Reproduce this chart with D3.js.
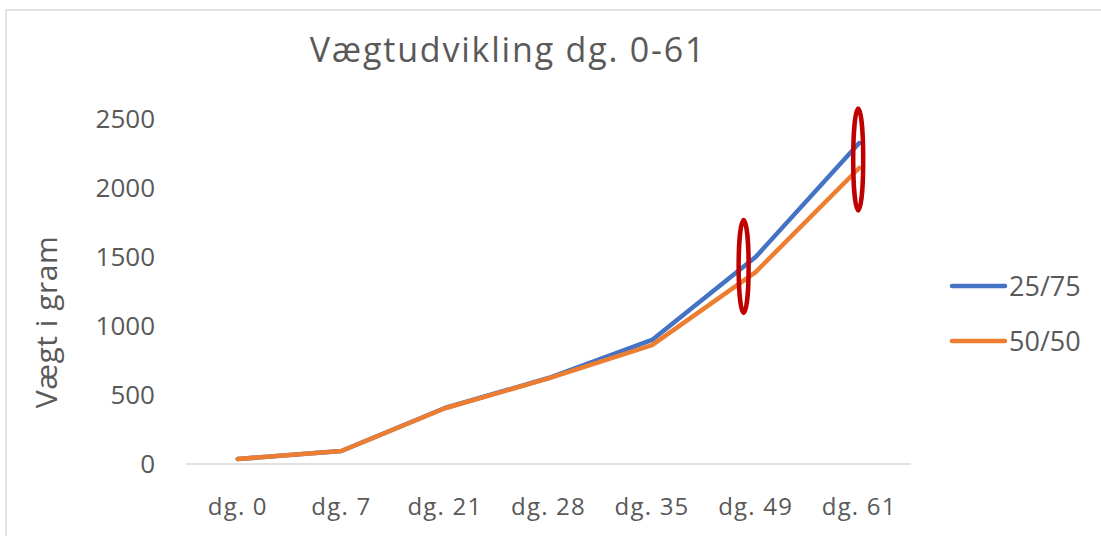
<!DOCTYPE html>
<html>
<head>
<meta charset="utf-8">
<script src="https://cdn.jsdelivr.net/npm/d3@7"></script>
<style>
  body { margin: 0; background: #fff; }
  text { font-family: "Open Sans", Lato, sans-serif; fill: #595959; }
</style>
</head>
<body>
<div id="chart"></div>
<script>
// data
var categories = ["dg. 0", "dg. 7", "dg. 21", "dg. 28", "dg. 35", "dg. 49", "dg. 61"]
var series2575 = [36, 94, 406, 623, 899, 1500, 2326]
var series5050 = [36, 94, 404, 620, 862, 1391, 2145]
var yTicks = [0, 500, 1000, 1500, 2000, 2500]
var highlighted = ["dg. 49", "dg. 61"]

var width = 1101, height = 536

var svg = d3.select("#chart").append("svg")
    .attr("width", width).attr("height", height)

// outer chart frame (cut off at right / bottom)
svg.append("rect")
    .attr("x", 6).attr("y", 10)
    .attr("width", width + 10).attr("height", height + 10)
    .attr("fill", "none").attr("stroke", "#d9d9d9").attr("stroke-width", 1.5)

var x = d3.scaleBand().domain(categories).range([186, 911])
var y = d3.scaleLinear().domain([0, 2500]).range([464, 119])

// title
svg.append("text")
    .attr("x", 508).attr("y", 62)
    .attr("text-anchor", "middle")
    .style("font-size", "34px")
    .style("letter-spacing", "1.8px")
    .text("Vægtudvikling dg. 0-61")

// y tick labels (no gridlines)
svg.append("g").selectAll("text")
    .data(yTicks).enter().append("text")
    .attr("x", 155).attr("y", function(d) { return y(d) })
    .attr("dy", "0.35em")
    .attr("text-anchor", "end")
    .style("font-size", "26px")
    .text(function(d) { return d })

// x axis line
svg.append("line")
    .attr("x1", x.range()[0]).attr("x2", x.range()[1])
    .attr("y1", y(0)).attr("y2", y(0))
    .attr("stroke", "#d9d9d9").attr("stroke-width", 1.5)

// x labels
svg.append("g").selectAll("text")
    .data(categories).enter().append("text")
    .attr("x", function(d) { return x(d) + x.bandwidth() / 2 })
    .attr("y", 515)
    .attr("text-anchor", "middle")
    .style("font-size", "24px")
    .style("letter-spacing", "1.2px")
    .text(function(d) { return d })

// y axis title
svg.append("text")
    .attr("transform", "translate(57,322) rotate(-90)")
    .attr("text-anchor", "middle")
    .style("font-size", "30px")
    .style("letter-spacing", "0.5px")
    .text("Vægt i gram")

var line = d3.line()
    .x(function(d, i) { return x(categories[i]) + x.bandwidth() / 2 })
    .y(function(d) { return y(d) })

var series = [
  {name: "25/75", values: series2575, color: "#4472C4"},
  {name: "50/50", values: series5050, color: "#ED7D31"}
]

svg.append("g").selectAll("path")
    .data(series).enter().append("path")
    .attr("d", function(d) { return line(d.values) })
    .attr("fill", "none")
    .attr("stroke", function(d) { return d.color })
    .attr("stroke-width", 4.5)
    .attr("stroke-linejoin", "round")
    .attr("stroke-linecap", "round")

// red ellipses marking the last two measurements (hand drawn, so a bit off)
var ellipseStyle = [
  {dx: -12, dy: 2, ry: 46.5},
  {dx: -1, dy: 4, ry: 51}
]
svg.append("g").selectAll("ellipse")
    .data(highlighted).enter().append("ellipse")
    .attr("cx", function(d, i) { return x(d) + x.bandwidth() / 2 + ellipseStyle[i].dx })
    .attr("cy", function(d, i) {
      var k = categories.indexOf(d)
      return y((series2575[k] + series5050[k]) / 2) + ellipseStyle[i].dy
    })
    .attr("rx", 5)
    .attr("ry", function(d, i) { return ellipseStyle[i].ry })
    .attr("fill", "none")
    .attr("stroke", "#C00000")
    .attr("stroke-width", 4.5)

// legend
var legend = svg.append("g").selectAll("g")
    .data(series).enter().append("g")
    .attr("transform", function(d, i) { return "translate(952," + (286 + i * 55) + ")" })

legend.append("line")
    .attr("x1", 0).attr("x2", 53)
    .attr("stroke", function(d) { return d.color })
    .attr("stroke-width", 4.5)
    .attr("stroke-linecap", "round")

legend.append("text")
    .attr("x", 57).attr("dy", "0.36em")
    .style("font-size", "27px")
    .text(function(d) { return d.name })
</script>
</body>
</html>
